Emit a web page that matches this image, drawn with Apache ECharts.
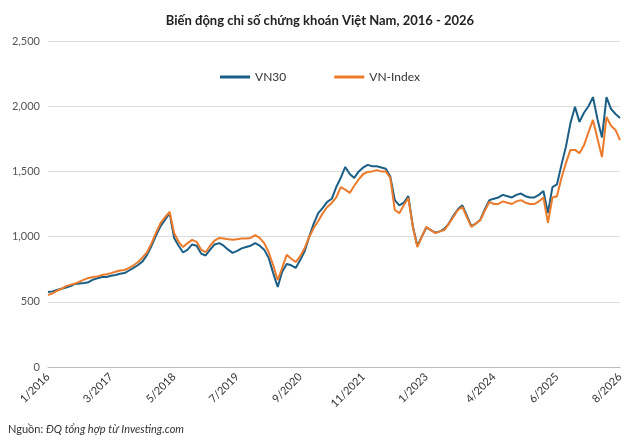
<!DOCTYPE html>
<html>
<head>
<meta charset="utf-8">
<script src="https://cdn.jsdelivr.net/npm/echarts@6/dist/echarts.min.js"></script>
<style>html,body{margin:0;background:#fff}#chart{width:640px;height:448px}</style>
</head>
<body>
<div id="chart"></div>
<script>
// du lieu theo thang, 1/2016 - 8/2026
var vnIndex = [
    552, 565, 585, 600, 620, 630, 640, 655, 670, 683, 690, 695,
    705, 712, 720, 730, 740, 744, 760, 780, 805, 840, 880, 950,
    1030, 1104, 1150, 1190, 1027, 960, 920, 950, 975, 960, 900, 880,
    930, 970, 990, 985, 980, 975, 980, 985, 985, 990, 1012, 990,
    950, 880, 780, 667, 760, 860, 830, 805, 850, 913, 997, 1066,
    1120, 1180, 1227, 1258, 1300, 1380, 1360, 1335, 1390, 1440, 1480, 1496,
    1500, 1510, 1500, 1500, 1450, 1204, 1180, 1240, 1296, 1074, 920, 1000,
    1074, 1050, 1027, 1040, 1050, 1100, 1150, 1204, 1227, 1150, 1074, 1100,
    1127, 1200, 1266, 1250, 1250, 1270, 1260, 1250, 1270, 1280, 1260, 1250,
    1250, 1270, 1300, 1105, 1300, 1310, 1450, 1565, 1665, 1665, 1640, 1700,
    1800, 1895, 1750, 1610, 1918, 1850, 1818, 1740
];
var vn30 = [
    575, 580, 590, 600, 610, 620, 637, 640, 644, 650, 670, 680,
    690, 690, 700, 705, 715, 720, 740, 760, 782, 810, 860, 930,
    1010, 1080, 1130, 1180, 990, 930, 878, 900, 940, 930, 870, 855,
    900, 940, 950, 930, 900, 875, 890, 910, 920, 930, 950, 930,
    900, 836, 720, 614, 730, 790, 780, 760, 820, 890, 1000, 1100,
    1180, 1220, 1266, 1290, 1380, 1450, 1534, 1480, 1450, 1500, 1530, 1550,
    1540, 1540, 1530, 1520, 1460, 1280, 1240, 1260, 1310, 1080, 930, 1000,
    1070, 1050, 1030, 1040, 1060, 1100, 1160, 1210, 1240, 1160, 1080, 1100,
    1130, 1210, 1280, 1290, 1300, 1320, 1310, 1300, 1320, 1330, 1310, 1300,
    1300, 1320, 1350, 1180, 1380, 1400, 1550, 1690, 1870, 1995, 1880, 1950,
    2000, 2070, 1900, 1760, 2070, 1980, 1940, 1910
];
var months = [];
for (var y = 2016; y <= 2026; y++) {
    for (var m = 1; m <= 12; m++) {
        if (y == 2026 && m > 8) break;
        months.push(m + '/' + y);
    }
}
var shownLabels = ['1/2016', '3/2017', '5/2018', '7/2019', '9/2020', '11/2021', '1/2023', '4/2024', '6/2025', '8/2026'];

var chart = echarts.init(document.getElementById('chart'));
var option = {
    backgroundColor: '#ffffff',
    textStyle: {fontFamily: 'Lato'},
    title: {
        text: 'Biến động chỉ số chứng khoán Việt Nam, 2016 - 2026',
        left: 'center',
        top: 9,
        textStyle: {fontSize: 13, fontWeight: 'bold', color: '#222', fontFamily: 'Lato'}
    },
    legend: {
        top: 66,
        left: 'center',
        itemGap: 48,
        itemWidth: 30,
        itemHeight: 3,
        icon: 'rect',
        textStyle: {fontSize: 12, color: '#333'},
        data: ['VN30', 'VN-Index']
    },
    grid: {left: 48, right: 20, top: 41, bottom: 81},
    xAxis: {
        type: 'category',
        data: months,
        boundaryGap: false,
        axisLine: {lineStyle: {color: '#bbb'}},
        axisTick: {show: false},
        axisLabel: {
            rotate: 45,
            fontSize: 11,
            color: '#333',
            interval: function (i, v) { return shownLabels.indexOf(v) >= 0; }
        }
    },
    yAxis: {
        type: 'value',
        min: 0,
        max: 2500,
        interval: 500,
        axisLabel: {
            fontSize: 11,
            color: '#555',
            formatter: function (v) { return v.toLocaleString('en-US'); }
        },
        splitLine: {lineStyle: {color: '#dcdcdc', width: 1}}
    },
    series: [
        {name: 'VN30', type: 'line', data: vn30, showSymbol: false,
            lineStyle: {width: 2, color: '#1b5e86'}, itemStyle: {color: '#1b5e86'}},
        {name: 'VN-Index', type: 'line', data: vnIndex, showSymbol: false,
            lineStyle: {width: 2, color: '#ec7a2b'}, itemStyle: {color: '#ec7a2b'}}
    ],
    graphic: [{
        type: 'text', left: 8, top: 424,
        style: {
            rich: {
                a: {fontSize: 11, fill: '#333', fontFamily: 'Lato'},
                b: {fontSize: 11, fill: '#333', fontStyle: 'italic', fontFamily: 'Lato'}
            },
            text: '{a|Nguồn: }{b|ĐQ tổng hợp từ Investing.com}'
        }
    }]
};
chart.setOption(option);
</script>
</body>
</html>
